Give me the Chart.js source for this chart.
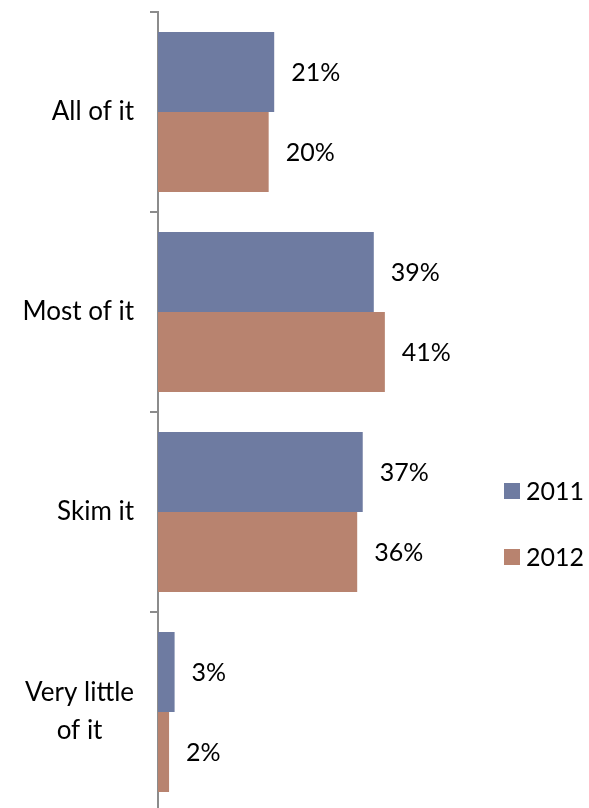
<!DOCTYPE html>
<html>
<head>
<meta charset="utf-8">
<script src="https://cdn.jsdelivr.net/npm/chart.js@4.4.1/dist/chart.umd.min.js"></script>
<style>
  html, body { margin: 0; padding: 0; background: #fff; overflow: hidden; }
  #frame { width: 589px; height: 808px; overflow: hidden; }
  #box { width: 589px; height: 812px; position: relative; }
</style>
</head>
<body>
<div id="frame"><div id="box"><canvas id="chart"></canvas></div></div>
<script>
// Datos
const categories = [['All of it'], ['Most of it'], ['Skim it'], ['Very little', 'of it']];
const seriesNames = ['2011', '2012'];
const values2011 = [21, 39, 37, 3];
const values2012 = [20, 41, 36, 2];
const seriesColors = ['#6E7BA1', '#B8836F'];

const FONT = 'Lato, "Open Sans", sans-serif';

// etiquetas de categoria (centradas entre lineas, alineadas a la derecha)
const catLabelsPlugin = {
    id: 'catLabels',
    afterDraw(chart) {
        const ctx = chart.ctx;
        const y = chart.scales.y;
        ctx.save();
        ctx.font = '26px ' + FONT;
        ctx.fillStyle = '#000';
        ctx.textBaseline = 'middle';
        ctx.textAlign = 'center';
        const right = y.right - 24;
        chart.data.labels.forEach((lines, i) => {
            const cy = y.getPixelForTick(i);
            const w = Math.max(...lines.map(l => ctx.measureText(l).width));
            const cx = right - w / 2;
            const lh = 38;
            lines.forEach((l, k) => {
                ctx.fillText(l, cx, cy + (k - (lines.length - 1) / 2) * lh);
            });
        });
        ctx.restore();
    }
};

// valores al final de cada barra
const valueLabelsPlugin = {
    id: 'valueLabels',
    afterDatasetsDraw(chart) {
        const ctx = chart.ctx;
        ctx.save();
        ctx.font = '25px ' + FONT;
        ctx.fillStyle = '#000';
        ctx.textBaseline = 'middle';
        ctx.textAlign = 'left';
        chart.data.datasets.forEach((ds, di) => {
            chart.getDatasetMeta(di).data.forEach((bar, i) => {
                ctx.fillText(ds.data[i] + '%', bar.x + 17, bar.y + 1);
            });
        });
        ctx.restore();
    }
};

// leyenda a la derecha
const legendPlugin = {
    id: 'sideLegend',
    afterDraw(chart) {
        const ctx = chart.ctx;
        ctx.save();
        ctx.font = '25px ' + FONT;
        ctx.textBaseline = 'middle';
        ctx.textAlign = 'left';
        chart.data.datasets.forEach((ds, i) => {
            const cy = 491 + i * 66;
            ctx.fillStyle = ds.backgroundColor;
            ctx.fillRect(504, cy - 8, 16, 16);
            ctx.fillStyle = '#000';
            ctx.fillText(ds.label, 526, cy + 1);
        });
        ctx.restore();
    }
};

new Chart(document.getElementById('chart'), {
    type: 'bar',
    data: {
        labels: categories,
        datasets: [
            { label: seriesNames[0], data: values2011, backgroundColor: seriesColors[0] },
            { label: seriesNames[1], data: values2012, backgroundColor: seriesColors[1] }
        ]
    },
    options: {
        indexAxis: 'y',
        responsive: true,
        maintainAspectRatio: false,
        animation: false,
        layout: { padding: { top: 12, right: 99, bottom: 0, left: 0 } },
        datasets: { bar: { categoryPercentage: 0.8, barPercentage: 1.0 } },
        plugins: { legend: { display: false }, tooltip: { enabled: false } },
        scales: {
            x: { display: false, min: 0, max: 60 },
            y: {
                afterFit(s) { s.width = 158; },
                grid: { offset: true, drawOnChartArea: false, color: '#8C8C8C', lineWidth: 2, tickLength: 8 },
                border: { color: '#8C8C8C', width: 2 },
                ticks: { display: false }
            }
        }
    },
    plugins: [catLabelsPlugin, valueLabelsPlugin, legendPlugin]
});
</script>
</body>
</html>
